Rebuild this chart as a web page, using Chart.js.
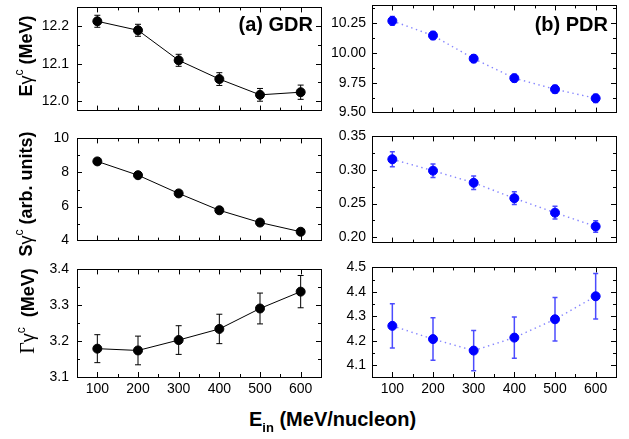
<!DOCTYPE html>
<html><head><meta charset="utf-8">
<script src="https://cdn.jsdelivr.net/npm/chart.js@4/dist/chart.umd.min.js"></script>
<style>
html,body{margin:0;padding:0;background:#fff;}
#wrap{position:relative;width:629px;height:439px;overflow:hidden;font-family:"Liberation Sans",Arial,sans-serif;color:#000;}
canvas{position:absolute;}
.yt{position:absolute;white-space:nowrap;font-weight:bold;font-size:18px;line-height:18px;transform:translate(-50%,-50%) rotate(-90deg);}
.yt .g{font-weight:normal;}
.yt .sp{position:relative;top:-9px;font-size:12px;font-weight:normal;}
.yt .serif{font-family:"Liberation Serif","Times New Roman",serif;font-weight:normal;font-size:20px;}
.pl{position:absolute;font-weight:bold;font-size:20px;line-height:20px;white-space:nowrap;}
.xt{position:absolute;font-weight:bold;font-size:20px;line-height:20px;white-space:nowrap;left:249px;top:409px;}
.xt .sb{position:relative;top:6px;font-size:13px;}
</style>
</head><body>
<div id="wrap">
  <div class="yt" style="left:27px;top:56px;">E<span class="g">γ</span><span class="sp">c</span> (MeV)</div>
  <div class="yt" style="left:27px;top:194px;">S<span class="g">γ</span><span class="sp">c</span> (arb. units)</div>
  <div class="yt" style="left:28px;top:311px;"><span class="serif">Γ</span><span class="g">γ</span><span class="sp">c</span>&nbsp; (MeV)</div>
  <div class="pl" style="right:316px;top:14px;">(a) GDR</div>
  <div class="pl" style="right:21px;top:14px;">(b) PDR</div>
  <div class="xt">E<span class="sb">in</span> (MeV/nucleon)</div>
</div>
<script>
// ---- data ----
const xValues = [100, 200, 300, 400, 500, 600];
const xTicks = [100, 200, 300, 400, 500, 600];
const xMinorTicks = [150, 250, 350, 450, 550, 650, 50];

const gdrE = [12.213, 12.189, 12.109, 12.059, 12.017, 12.024];
const gdrEErr = [0.016, 0.016, 0.016, 0.017, 0.017, 0.019];
const pdrE = [10.27, 10.147, 9.953, 9.789, 9.696, 9.62];
const pdrEErr = [0.036, 0.034, 0.033, 0.033, 0.033, 0.035];

const gdrS = [8.65, 7.84, 6.77, 5.78, 5.06, 4.52];
const gdrSErr = [0.18, 0.15, 0.15, 0.13, 0.12, 0.12];
const pdrS = [0.316, 0.299, 0.281, 0.258, 0.2365, 0.216];
const pdrSErr = [0.011, 0.010, 0.010, 0.0095, 0.0095, 0.0085];

const gdrG = [3.179, 3.174, 3.203, 3.234, 3.291, 3.338];
const gdrGErr = [0.039, 0.040, 0.040, 0.041, 0.043, 0.045];
const pdrG = [4.261, 4.207, 4.160, 4.213, 4.288, 4.382];
const pdrGErr = [0.090, 0.087, 0.082, 0.084, 0.089, 0.093];

const yTicksGdrE = [12.0, 12.1, 12.2];
const yMinorGdrE = [12.05, 12.15, 12.25];
const yTicksPdrE = [9.50, 9.75, 10.00, 10.25];
const yMinorPdrE = [9.625, 9.875, 10.125, 10.375];
const yTicksGdrS = [4, 6, 8, 10];
const yMinorGdrS = [5, 7, 9];
const yTicksPdrS = [0.20, 0.25, 0.30, 0.35];
const yMinorPdrS = [0.225, 0.275, 0.325];
const yTicksGdrG = [3.1, 3.2, 3.3, 3.4];
const yMinorGdrG = [3.15, 3.25, 3.35];
const yTicksPdrG = [4.1, 4.2, 4.3, 4.4, 4.5];
const yMinorPdrG = [4.15, 4.25, 4.35, 4.45];

// ---- geometry ----
const cols = [{l: 77, r: 321, pad: 8}, {l: 372, r: 616, pad: 6}];
const rows = [{t: 1, b: 117}, {t: 132, b: 247}, {t: 263, b: 377}];
const YW = 70, PT = 10, PR = 10;

const wrap = document.getElementById('wrap');

const frameTicks = {
  id: 'frameTicks',
  afterDraw(chart, args, o) {
    const ctx = chart.ctx, a = chart.chartArea;
    const xs = chart.scales.x, ys = chart.scales.y;
    ctx.save();
    ctx.strokeStyle = '#000';
    ctx.lineWidth = 1;
    ctx.strokeRect(Math.round(a.left) + 0.5, Math.round(a.top) + 0.5, Math.round(a.right - a.left), Math.round(a.bottom - a.top));
    ctx.beginPath();
    const vt = (v, len) => {
      const p = Math.round(xs.getPixelForValue(v)) + 0.5;
      if (p < a.left || p > a.right) return;
      ctx.moveTo(p, a.bottom); ctx.lineTo(p, a.bottom - len);
      ctx.moveTo(p, a.top); ctx.lineTo(p, a.top + len);
    };
    const ht = (v, len) => {
      const p = Math.round(ys.getPixelForValue(v)) + 0.5;
      if (p < a.top - 0.5 || p > a.bottom + 0.5) return;
      ctx.moveTo(a.left, p); ctx.lineTo(a.left + len, p);
      ctx.moveTo(a.right, p); ctx.lineTo(a.right - len, p);
    };
    xTicks.forEach(v => vt(v, 5));
    xMinorTicks.forEach(v => vt(v, 3));
    o.yMajor.forEach(v => ht(v, 5));
    o.yMinor.forEach(v => ht(v, 3));
    ctx.stroke();
    ctx.restore();
  }
};

const errorBars = {
  id: 'errorBars',
  beforeDatasetsDraw(chart, args, o) {
    const ctx = chart.ctx;
    const xs = chart.scales.x, ys = chart.scales.y;
    ctx.save();
    ctx.strokeStyle = o.color;
    ctx.lineWidth = o.width;
    chart.data.datasets.forEach(ds => {
      ds.data.forEach((pt, i) => {
        const e = ds.errors[i];
        const x = xs.getPixelForValue(pt.x);
        const y1 = ys.getPixelForValue(pt.y - e);
        const y2 = ys.getPixelForValue(pt.y + e);
        ctx.beginPath();
        ctx.moveTo(x, y1); ctx.lineTo(x, y2);
        ctx.moveTo(x - o.cap, y1); ctx.lineTo(x + o.cap, y1);
        ctx.moveTo(x - o.cap, y2); ctx.lineTo(x + o.cap, y2);
        ctx.stroke();
      });
    });
    ctx.restore();
  }
};

function panel(ci, ri, vals, errs, yMin, yMax, yMajor, yMinor, dec, blue) {
  const c = cols[ci], r = rows[ri];
  const bottomRow = ri === 2;
  const XH = bottomRow ? 30 : 0;
  const PB = bottomRow ? 0 : 10;
  const W = YW + (c.r - c.l) + PR;
  const H = PT + (r.b - r.t) + XH + PB;
  const cv = document.createElement('canvas');
  cv.width = W; cv.height = H;
  cv.style.left = (c.l - YW) + 'px';
  cv.style.top = (r.t - PT) + 'px';
  cv.style.width = W + 'px'; cv.style.height = H + 'px';
  wrap.insertBefore(cv, wrap.firstChild);
  const font = {family: '"Liberation Sans", Arial, sans-serif', size: 14};
  new Chart(cv, {
    type: 'scatter',
    data: {
      datasets: [{
        data: xValues.map((x, i) => ({x: x, y: vals[i]})),
        errors: errs,
        showLine: true,
        borderColor: blue ? 'rgba(80,80,255,0.7)' : '#000',
        borderWidth: blue ? 1.4 : 1,
        borderDash: blue ? [1.4, 3.6] : [],
        pointRadius: 4.5,
        pointBackgroundColor: blue ? '#0000ff' : '#000',
        pointBorderColor: blue ? '#0000ff' : '#000',
        pointBorderWidth: 1,
        clip: false
      }]
    },
    options: {
      responsive: false,
      animation: false,
      devicePixelRatio: 1,
      layout: {padding: {left: 0, top: PT, right: PR, bottom: PB}, autoPadding: false},
      plugins: {
        legend: {display: false},
        tooltip: {enabled: false},
        frameTicks: {yMajor: yMajor, yMinor: yMinor},
        errorBars: {color: blue ? 'rgba(30,30,255,0.8)' : '#000', width: blue ? 1.5 : 1, cap: blue ? 2.5 : 3}
      },
      scales: {
        x: {
          type: 'linear', min: 50, max: 650,
          afterBuildTicks: s => { s.ticks = xTicks.map(v => ({value: v})); },
          afterFit: s => { s.height = XH; },
          grid: {display: false, drawTicks: false},
          border: {display: false},
          ticks: {display: bottomRow, font: font, color: '#000', padding: 4, maxRotation: 0, autoSkip: false,
                  callback: v => String(v)}
        },
        y: {
          type: 'linear', min: yMin, max: yMax,
          afterBuildTicks: s => { s.ticks = yMajor.map(v => ({value: v})); },
          afterFit: s => { s.width = YW; },
          grid: {display: false, drawTicks: false},
          border: {display: false},
          ticks: {font: font, color: '#000', padding: c.pad, autoSkip: false,
                  callback: v => Number(v).toFixed(dec)}
        }
      }
    },
    plugins: [errorBars, frameTicks]
  });
}

panel(0, 0, gdrE, gdrEErr, 11.975, 12.25, yTicksGdrE, yMinorGdrE, 1, false);
panel(1, 0, pdrE, pdrEErr, 9.5, 10.4, yTicksPdrE, yMinorPdrE, 2, true);
panel(0, 1, gdrS, gdrSErr, 4, 10, yTicksGdrS, yMinorGdrS, 0, false);
panel(1, 1, pdrS, pdrSErr, 0.192, 0.35, yTicksPdrS, yMinorPdrS, 2, true);
panel(0, 2, gdrG, gdrGErr, 3.1, 3.4, yTicksGdrG, yMinorGdrG, 1, false);
panel(1, 2, pdrG, pdrGErr, 4.052, 4.5, yTicksPdrG, yMinorPdrG, 1, true);
</script>
</body></html>
